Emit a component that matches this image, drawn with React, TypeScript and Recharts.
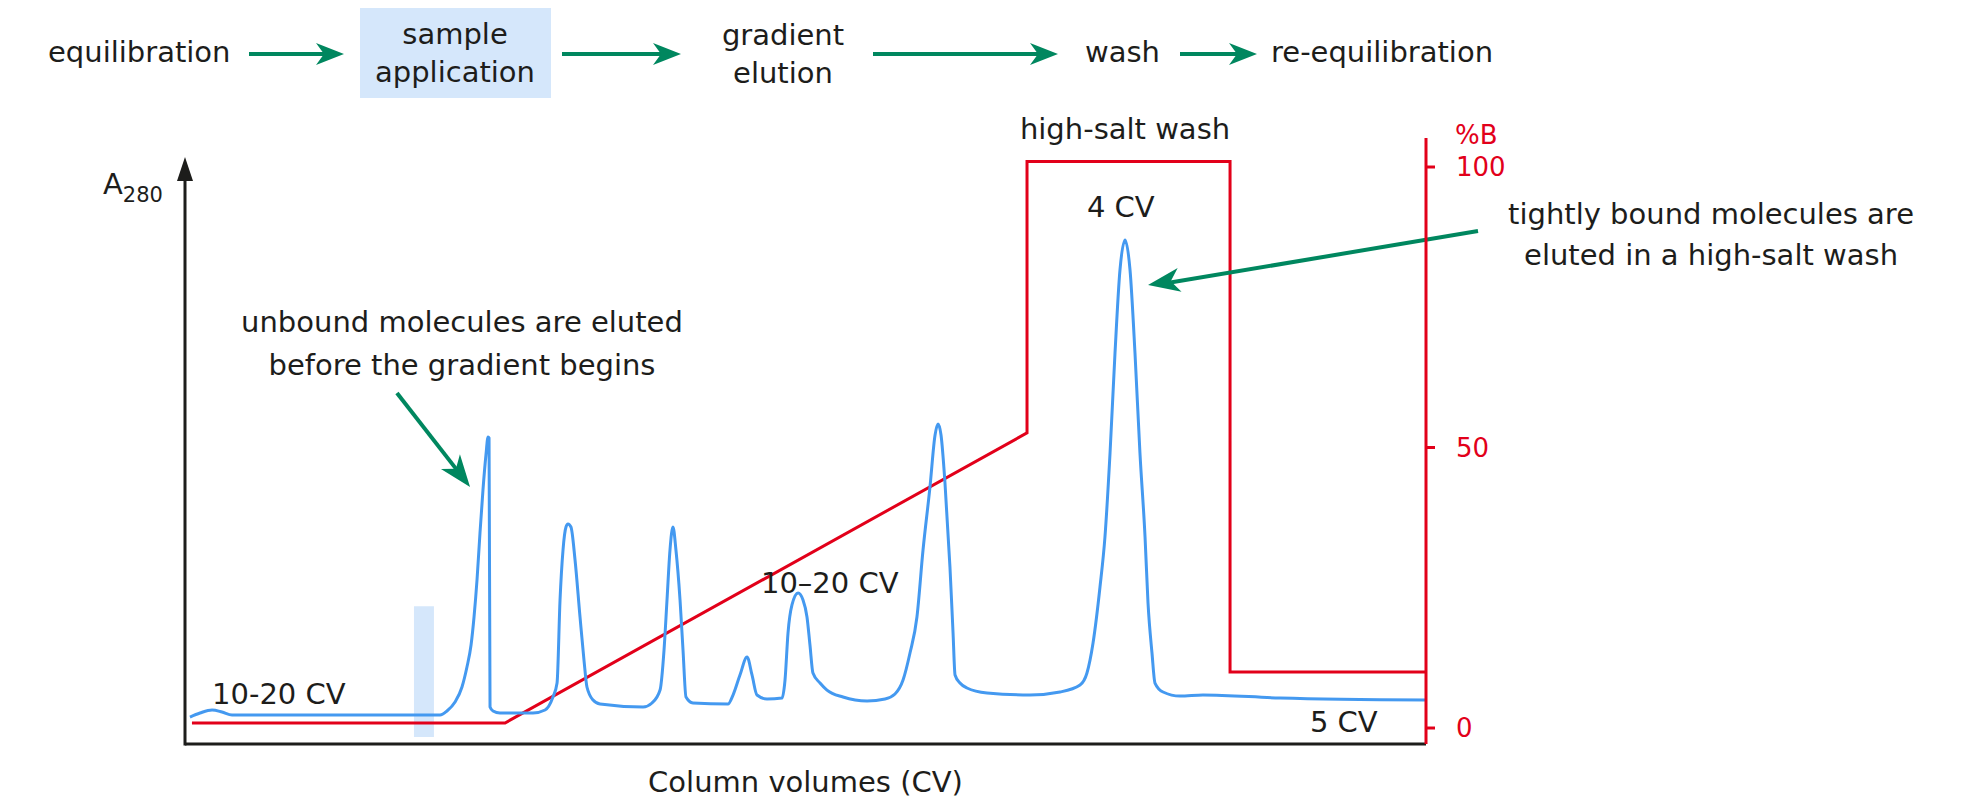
import React from "react";
import {
  ComposedChart,
  Line,
  XAxis,
  YAxis,
  ReferenceArea,
  ReferenceLine,
  ReferenceDot,
} from "recharts";

const FONT = "'DejaVu Sans', sans-serif";
const INK = "#1d1d1b";
const RED = "#e2001a";
const BLUE = "#4499f0";
const GREEN = "#00875f";
const SAMPLE = "#d5e7fb";

// A280 trace (column volumes on x, absorbance in the same units as %B)
const traceCv = [
  0.4, 1.21, 2.18, 2.98, 3.79, 6.04, 20.55, 21.11, 21.76, 22.32, 22.72, 23.05,
  23.29, 23.53, 23.77, 24.01, 24.25, 24.42, 24.5, 24.58, 24.82, 25.38, 28.04,
  29.01, 29.65, 29.98, 30.22, 30.46, 30.7, 30.86, 31.1, 31.43, 31.83, 32.15,
  32.39, 32.88, 33.44, 36.91, 37.63, 38.28, 38.6, 38.84, 39.08, 39.32, 39.56,
  39.89, 40.13, 40.37, 40.93, 43.75, 44.16, 44.72, 45.29, 45.69, 46.09, 46.9,
  48.11, 48.35, 48.59, 48.91, 49.4, 49.8, 50.12, 50.36, 50.6, 51.17, 51.73,
  53.02, 54.96, 56.41, 57.21, 57.86, 58.42, 58.98, 59.47, 60.03, 60.44, 60.68,
  60.92, 61.24, 61.64, 61.89, 62.05, 62.45, 63.01, 64.63, 68.09, 70.51, 72.12,
  72.68, 73.17, 73.73, 74.13, 74.54, 74.94, 75.34, 75.75, 76.15, 76.55, 76.95,
  77.36, 77.6, 77.92, 78.16, 78.81, 80.18, 82.03, 88.24, 100,
];
const traceA280 = [
  1.96, 2.67, 3.21, 2.85, 2.32, 2.32, 2.32, 3.03, 4.63, 7.31, 10.87, 14.8,
  19.79, 26.38, 34.76, 42.42, 48.66, 51.87, 51.69, 3.74, 3.03, 2.67, 2.67,
  3.21, 5.53, 8.02, 22.82, 31.73, 35.83, 36.36, 35.83, 29.95, 19.79, 12.12,
  7.31, 4.99, 4.28, 3.74, 4.46, 6.77, 13.9, 22.82, 31.73, 35.83, 31.73, 22.82,
  13.9, 5.53, 4.46, 4.28, 5.88, 9.45, 12.66, 9.45, 5.88, 5.17, 5.35, 8.56,
  16.93, 21.93, 24.06, 22.82, 19.79, 14.8, 9.8, 8.02, 6.77, 5.53, 4.81, 5.17,
  6.06, 8.56, 13.37, 19.79, 31.73, 42.96, 52.23, 54.19, 52.23, 43.67, 28.7,
  16.93, 9.45, 8.02, 7.13, 6.24, 5.88, 6.42, 7.66, 9.8, 15.15, 25.13, 34.05,
  49.02, 66.84, 81.64, 86.99, 81.64, 66.84, 49.02, 34.05, 22.28, 13.37, 8.02,
  6.42, 5.7, 5.88, 5.35, 4.99,
];

// %B gradient programme
const gradientCv = [0.56, 25.79, 67.85, 67.85, 84.21, 84.21, 100];
const gradientB = [0.9, 0.9, 52.6, 101, 101, 10, 10];

const percentTicks = [0, 50, 100];
const yDomain = [-2.85, 105.17];

const traceData = traceCv.map((cv, i) => ({ cv, a280: traceA280[i] }));
const gradientData = gradientCv.map((cv, i) => ({ cv, b: gradientB[i] }));

// arrow head drawn at (cx, cy) pointing along angle (degrees, screen coords)
const head =
  (angle: number, color: string, len = 32, half = 12, notch = 0.72) =>
  (p: any) => {
    const a = (angle * Math.PI) / 180;
    const c = Math.cos(a);
    const s = Math.sin(a);
    const bx = p.cx - len * c;
    const by = p.cy - len * s;
    const nx = p.cx - len * notch * c;
    const ny = p.cy - len * notch * s;
    const pts = [
      [p.cx, p.cy],
      [bx - half * s, by + half * c],
      [nx, ny],
      [bx + half * s, by - half * c],
    ];
    return <polygon points={pts.map((q) => q.join(",")).join(" ")} fill={color} />;
  };

const note = (
  key: string,
  x: number,
  y: number,
  lines: string[],
  anchor = "start",
  gap = 42,
) => (
  <ReferenceDot
    key={key}
    yAxisId="a"
    x={x}
    y={y}
    r={0}
    ifOverflow="visible"
    shape={(p: any) => (
      <text
        x={p.cx}
        y={p.cy}
        fontFamily={FONT}
        fontSize={29}
        fill={INK}
        textAnchor={anchor as any}
      >
        {lines.map((l, i) => (
          <tspan key={i} x={p.cx} dy={i === 0 ? 0 : gap}>
            {l}
          </tspan>
        ))}
      </text>
    )}
  />
);

const FlowArrow = ({ x1, x2, y }: { x1: number; x2: number; y: number }) => (
  <g>
    <line x1={x1} y1={y} x2={x2 - 18} y2={y} stroke={GREEN} strokeWidth={4} />
    <polygon
      points={`${x2},${y} ${x2 - 28},${y - 11} ${x2 - 20},${y} ${x2 - 28},${y + 11}`}
      fill={GREEN}
    />
  </g>
);

const App = () => {
  return (
    <div
      style={{
        position: "absolute",
        left: 0,
        top: 0,
        width: 1973,
        height: 804,
        background: "#fff",
      }}
    >
      {/* workflow row */}
      <svg
        width={1973}
        height={110}
        style={{ position: "absolute", left: 0, top: 0 }}
        fontFamily={FONT}
        fontSize={29}
        fill={INK}
      >
        <rect x={360} y={8} width={191} height={90} fill={SAMPLE} />
        <text x={48} y={62}>equilibration</text>
        <FlowArrow x1={249} x2={344} y={54} />
        <text x={455} y={44} textAnchor="middle">sample</text>
        <text x={455} y={82} textAnchor="middle">application</text>
        <FlowArrow x1={562} x2={681} y={54} />
        <text x={783} y={45} textAnchor="middle">gradient</text>
        <text x={783} y={83} textAnchor="middle">elution</text>
        <FlowArrow x1={873} x2={1058} y={54} />
        <text x={1085} y={62}>wash</text>
        <FlowArrow x1={1180} x2={1257} y={54} />
        <text x={1271} y={62}>re-equilibration</text>
      </svg>

      <div style={{ position: "absolute", left: 0, top: 0 }}>
        <ComposedChart
          width={1973}
          height={804}
          margin={{ top: 138, right: 467, bottom: 0, left: 185 }}
        >
          <XAxis
            dataKey="cv"
            type="number"
            domain={[0, 100]}
            allowDataOverflow
            tick={false}
            tickLine={false}
            axisLine={{ stroke: INK, strokeWidth: 3 }}
            height={60}
            label={{
              value: "Column volumes (CV)",
              position: "insideBottom",
              offset: 12,
              fill: INK,
              fontSize: 29,
              fontFamily: FONT,
            }}
          />
          <YAxis yAxisId="a" type="number" domain={yDomain} allowDataOverflow hide />
          <YAxis
            yAxisId="b"
            orientation="right"
            type="number"
            domain={yDomain}
            allowDataOverflow
            ticks={percentTicks}
            width={80}
            stroke={RED}
            axisLine={{ stroke: RED, strokeWidth: 3 }}
            tickLine={{ stroke: RED, strokeWidth: 3 }}
            tickSize={9}
            tickMargin={21}
            tick={{ fill: RED, fontSize: 26, fontFamily: FONT }}
          />

          <ReferenceArea
            yAxisId="a"
            x1={18.45}
            x2={20.06}
            y1={-1.6}
            y2={21.7}
            fill={SAMPLE}
            fillOpacity={1}
            stroke="none"
            ifOverflow="visible"
          />

          {/* left A280 axis with arrow */}
          <ReferenceLine
            yAxisId="a"
            segment={[
              { x: 0, y: -3.1 },
              { x: 0, y: 98.5 },
            ]}
            stroke={INK}
            strokeWidth={3}
            ifOverflow="visible"
          />
          <ReferenceDot
            yAxisId="a"
            x={0}
            y={101.78}
            r={0}
            ifOverflow="visible"
            shape={head(-90, INK, 24, 8, 1)}
          />

          <Line
            yAxisId="b"
            data={gradientData}
            dataKey="b"
            type="linear"
            stroke={RED}
            strokeWidth={3}
            dot={false}
            isAnimationActive={false}
          />
          <Line
            yAxisId="a"
            data={traceData}
            dataKey="a280"
            type="monotone"
            stroke={BLUE}
            strokeWidth={3}
            dot={false}
            isAnimationActive={false}
          />

          {/* annotation arrows */}
          <ReferenceLine
            yAxisId="a"
            segment={[
              { x: 17.08, y: 59.71 },
              { x: 22.3, y: 44.9 },
            ]}
            stroke={GREEN}
            strokeWidth={4}
            ifOverflow="visible"
          />
          <ReferenceDot
            yAxisId="a"
            x={22.97}
            y={42.96}
            r={0}
            ifOverflow="visible"
            shape={head(52.2, GREEN)}
          />
          <ReferenceLine
            yAxisId="a"
            segment={[
              { x: 104.19, y: 88.59 },
              { x: 79.4, y: 79.4 },
            ]}
            stroke={GREEN}
            strokeWidth={4}
            ifOverflow="visible"
          />
          <ReferenceDot
            yAxisId="a"
            x={77.6}
            y={78.97}
            r={0}
            ifOverflow="visible"
            shape={head(170.7, GREEN)}
          />

          {note("n1", 2.18, 4.28, ["10-20 CV"])}
          {note("n2", 22.32, 70.59, ["unbound molecules are eluted", "before the gradient begins"], "middle", 43)}
          {note("n3", 46.41, 24.06, ["10\u201320 CV"])}
          {note("n4", 67.28, 104.99, ["high-salt wash"])}
          {note("n5", 72.68, 91.09, ["4 CV"])}
          {note("n6", 90.65, -0.71, ["5 CV"])}
          {note("n7", 122.97, 89.84, ["tightly bound molecules are", "eluted in a high-salt wash"], "middle", 41)}

          <ReferenceDot
            yAxisId="a"
            x={102.34}
            y={104.1}
            r={0}
            ifOverflow="visible"
            shape={(p: any) => (
              <text x={p.cx} y={p.cy} fontFamily={FONT} fontSize={26} fill={RED}>
                %B
              </text>
            )}
          />
          <ReferenceDot
            yAxisId="a"
            x={-6.61}
            y={95.19}
            r={0}
            ifOverflow="visible"
            shape={(p: any) => (
              <text x={p.cx} y={p.cy} fontFamily={FONT} fontSize={29} fill={INK}>
                A
                <tspan fontSize={21} dy={8}>
                  280
                </tspan>
              </text>
            )}
          />
        </ComposedChart>
      </div>
    </div>
  );
};

export default App;
